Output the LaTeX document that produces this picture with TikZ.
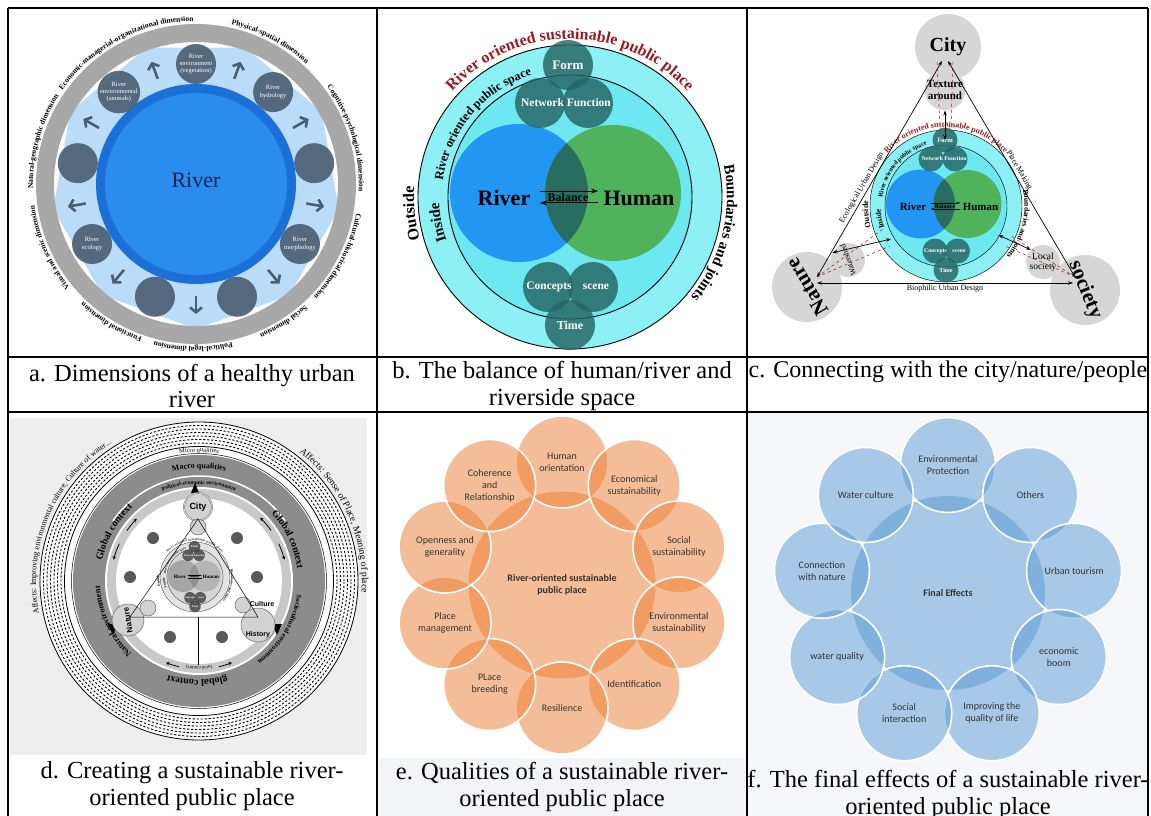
\documentclass[tikz,border=0pt]{standalone}
\usepackage{fontspec}
\setmainfont{Liberation Serif}
\newfontfamily\calfont{Carlito}
\newfontfamily\arialfont{Liberation Sans}
\usetikzlibrary{arrows.meta,decorations.text,positioning}

\definecolor{ringgray}{RGB}{168,168,168}
\definecolor{polyblue}{RGB}{186,220,248}
\definecolor{riverblue}{RGB}{42,140,236}
\definecolor{riveredge}{RGB}{26,112,214}
\definecolor{slate}{RGB}{74,93,113}
\definecolor{navy}{RGB}{24,36,82}
\definecolor{bout}{RGB}{140,240,245}
\definecolor{bin}{RGB}{110,232,240}
\definecolor{briver}{RGB}{33,150,243}
\definecolor{bhuman}{RGB}{80,178,90}
\definecolor{bboth}{RGB}{40,110,96}
\definecolor{bteal}{RGB}{38,100,100}
\definecolor{bred}{RGB}{150,26,32}
\definecolor{cgray}{RGB}{214,214,214}
\definecolor{dbg}{RGB}{238,238,238}
\definecolor{dgray}{RGB}{140,140,140}
\definecolor{dlight}{RGB}{200,200,200}
\definecolor{eorange}{RGB}{237,125,49}
\definecolor{ebg}{RGB}{242,244,247}
\definecolor{fblue}{RGB}{91,155,213}
\definecolor{fbg}{RGB}{245,247,250}

% font size scaled by \bs
\newcommand{\bfs}[1]{\fontsize{\fpeval{#1*\bs}}{\fpeval{1.15*#1*\bs}}\selectfont}
% text on a circular arc: radius, start, end, format, text
\newcommand{\arctext}[5]{%
  \path[decorate,decoration={text along path,text align=center,text={|#4|#5}}]
    (#2:#1) arc[start angle=#2,end angle=#3,radius=#1];}

% river / human balance figure, #1 scale, #2 name prefix
\newcommand{\balancefig}[2]{%
  \def\bs{#1}%
  \fill[bout] (0,0) circle[radius=152*\bs];
  \draw[line width=0.9*\bs] (0,0) circle[radius=152*\bs];
  \fill[bin] (0,0) circle[radius=122*\bs];
  \draw[line width=0.9*\bs] (0,0) circle[radius=122*\bs];
  \fill[briver] (-51*\bs,4*\bs) circle[radius=69*\bs];
  \fill[bhuman] (43*\bs,4*\bs) circle[radius=68*\bs];
  \begin{scope}
    \clip (-51*\bs,4*\bs) circle[radius=69*\bs];
    \fill[bboth] (43*\bs,4*\bs) circle[radius=68*\bs];
  \end{scope}
  % small teal circles
  \foreach \n/\px/\py in {form/-2/132,net/-30/94,fun/18/94,con/-22/-90,sce/23/-90,tim/0/-128}
    \node[bdisc, minimum size={50*\bs}] (#2\n) at (\px*\bs,\py*\bs) {};
  \node[blabel, font=\bfs{13}\bfseries] (#2formt) at (-2*\bs,132*\bs) {Form};
  \node[blabel, font=\bfs{11.5}\bfseries] (#2nft) at (-4*\bs,94*\bs) {Network Function};
  \node[blabel, font=\bfs{11.5}\bfseries] (#2cont) at (-21*\bs,-90*\bs) {Concepts};
  \node[blabel, font=\bfs{11.5}\bfseries] (#2scet) at (26*\bs,-90*\bs) {scene};
  \node[blabel, font=\bfs{12}\bfseries] (#2timt) at (0,-128*\bs) {Time};
  % centre
  \node[inner sep=0, font=\bfs{22}\bfseries] (#2river) at (-66*\bs,-1*\bs) {River};
  \node[inner sep=0, font=\bfs{22}\bfseries] (#2human) at (69*\bs,-1*\bs) {Human};
  \node[inner sep=1.5*\bs, font=\bfs{12}\bfseries] (#2bal) at (-2*\bs,0) {Balance};
  \draw[line width=1.1*\bs, -{Stealth[length=\fpeval{7*\bs}pt,width=\fpeval{5*\bs}pt]}]
    ([xshift=-6*\bs]#2bal.north west) -- ([xshift=8*\bs]#2bal.north east);
  \draw[line width=1.1*\bs, -{Stealth[length=\fpeval{7*\bs}pt,width=\fpeval{5*\bs}pt]}]
    ([xshift=8*\bs]#2bal.south east) -- ([xshift=-6*\bs]#2bal.south west);
  % curved labels
  \arctext{158*\bs}{155}{25}{\bfs{16}\bfseries\color{bred}}{River oriented sustainable public place}
  \arctext{128*\bs}{192}{88}{\bfs{12.5}\bfseries}{River oriented public space}
  \arctext{157*\bs}{22}{-50}{\bfs{15}\bfseries}{Boundaries and joints}
  \arctext{156*\bs}{202}{170}{\bfs{16}\bfseries}{Outside}
  \arctext{131*\bs}{208}{174}{\bfs{15}\bfseries}{Inside}
  \coordinate (#2sw) at (211:128*\bs);
  \coordinate (#2se) at (-29:120*\bs);
}

\begin{document}
\begin{tikzpicture}[x=1pt, y=1pt,
    rule/.style={line width=1.4},
    caption/.style={font=\fontsize{24.5}{26.5}\selectfont, align=center, inner sep=0},
    adisc/.style={circle, fill=slate, fill opacity=.9, text opacity=1, text=white,
      minimum size=40, inner sep=0, align=center, font=\fontsize{6.5}{7.3}\selectfont},
    aarrow/.style={slate, line width=2.6, -{Straight Barb[length=5,width=12]}},
    bdisc/.style={circle, fill=bteal, fill opacity=.82, inner sep=0},
    blabel/.style={text=white, inner sep=0},
    cdisc/.style={circle, fill=cgray, inner sep=0},
    tri/.style={{Stealth[length=5,width=3.5]}-{Stealth[length=5,width=3.5]}, line width=0.7},
    reddash/.style={bred, dashed, line width=0.5},
    dcirc/.style={circle, draw=black!60, fill=gray!35, inner sep=0, line width=0.5},
    ddot/.style={circle, fill=black!65, minimum size=12, inner sep=0},
    darr/.style={line width=0.8, -{Stealth[length=3.5,width=3.5]}},
    ecore/.style={circle, fill=eorange, fill opacity=.5, text opacity=1,
      minimum size=187, inner sep=0, align=center},
    ering/.style={circle, fill=eorange, fill opacity=.5, text opacity=1, draw=white,
      line width=1.6, minimum size=92, inner sep=0, align=center},
    fcore/.style={circle, fill=fblue, fill opacity=.5, text opacity=1,
      minimum size=194, inner sep=0, align=center},
    fring/.style={circle, fill=fblue, fill opacity=.5, text opacity=1, draw=white,
      line width=1.6, minimum size=95, inner sep=0, align=center}]

\useasboundingbox (0,0) rectangle (1151,-816);
\fill[white] (0,0) rectangle (1151,-816);

% cell backgrounds
\fill[dbg] (10,-418) rectangle (367,-755);
\fill[fbg] (748,-413) rectangle (1148,-816);
\fill[ebg] (379,-758) rectangle (745,-816);

% ---------- a. dimensions ----------
\begin{scope}[shift={(196,-184)}]
  \fill[polyblue] (70:145) \foreach \a in {110,150,...,390}{ -- (\a:145)} -- cycle;
  \draw[ringgray, line width=18] (0,0) circle[radius=151];
  \fill[riveredge] (0,0) circle[radius=100];
  \fill[riverblue] (0,0) circle[radius=91];
  \node[text=navy, font=\fontsize{22}{26}\selectfont] (ariver) at (0,4) {River};
  \foreach \a/\t [count=\i] in {90/{River\\environment\\(vegetation)}, 50/{River\\hydrology}, 10/{},
      -30/{River\\morphology}, -70/{}, -110/{}, -150/{River\\ecology}, 170/{},
      130/{River\\environmental\\(animals)}}
    \node[adisc] (adim\i) at (\a:120) {\t};
  \foreach \a in {70,30,...,-250}
    \draw[aarrow] (\a:112) -- (\a:130);
  \arctext{163}{154}{82}{\fontsize{7.5}{8}\selectfont\bfseries}{Economic-managerial-organizational dimension}
  \arctext{163}{87}{38}{\fontsize{7.5}{8}\selectfont\bfseries}{Physical-spatial dimension}
  \arctext{163}{45}{-11}{\fontsize{7.5}{8}\selectfont\bfseries}{Cognitive-psychological dimension}
  \arctext{163}{-2}{-52}{\fontsize{7.5}{8}\selectfont\bfseries}{Cultural-historical dimension}
  \arctext{163}{-42}{-73}{\fontsize{7.5}{8}\selectfont\bfseries}{Social dimension}
  \arctext{163}{-70}{-112}{\fontsize{7.5}{8}\selectfont\bfseries}{Political-legal dimension}
  \arctext{163}{-102}{-141}{\fontsize{7.5}{8}\selectfont\bfseries}{Functional dimension}
  \arctext{163}{-133}{-180}{\fontsize{7.5}{8}\selectfont\bfseries}{Visual and scenic dimension}
  \arctext{163}{189}{140}{\fontsize{7.5}{8}\selectfont\bfseries}{Natural-geographic dimension}
\end{scope}

% ---------- b. balance ----------
\begin{scope}[shift={(570,-197)}]
  \balancefig{1}{b}
\end{scope}

% ---------- c. city / nature / people ----------
\begin{scope}[shift={(946,-206)}]
  \balancefig{0.5}{c}
\end{scope}
\node[cdisc, minimum size=66, font=\fontsize{20}{22}\selectfont\bfseries] (city) at (948,-47) {City};
\node[cdisc, minimum size=34, align=center, font=\fontsize{11}{11.5}\selectfont\bfseries] (texture) at (945,-90) {Texture\\around};
\node[cdisc, minimum size=70, rotate=121, font=\fontsize{21}{22}\selectfont\bfseries] (nature) at (807,-287) {Nature};
\node[cdisc, minimum size=70, rotate=-68, font=\fontsize{21}{22}\selectfont\bfseries] (society) at (1085,-290) {society};
\node[cdisc, minimum size=34, rotate=110, font=\fontsize{8}{9}\selectfont] (watershed) at (848,-260) {Watershed};
\node[cdisc, minimum size=34, align=center, font=\fontsize{9.5}{10.5}\selectfont] (localsoc) at (1043,-262) {Local\\society};
\coordinate (tl) at (942,-61);
\coordinate (tr) at (948,-61);
\coordinate (bl) at (817,-277);
\coordinate (br) at (1075,-277);
\coordinate (bbl) at (817,-283);
\coordinate (bbr) at (1073,-283);
% red dashed links
\draw[reddash] (937,-62) -- (940,-128);
\draw[reddash] (953,-62) -- (951,-128);
\draw[reddash] (bl) -- (883,-229);
\draw[reddash] (bl) -- (890,-246);
\draw[reddash] (br) -- (1011,-236);
\draw[reddash] (br) -- (1005,-246);
% triangle
\draw[tri] (tl) -- node[sloped, above, pos=.6, font=\fontsize{8}{9}\selectfont, inner sep=2] (ecolab) {Ecological Urban Design} (bl);
\draw[tri] (tr) -- node[sloped, above, pos=.52, font=\fontsize{8}{9}\selectfont, inner sep=2] (placelab) {Place Making} (br);
\draw[tri] (bbl) -- node[below, font=\fontsize{8}{9}\selectfont, inner sep=2] (biolab) {Biophilic Urban Design} (bbr);
\draw[tri] (texture.south) -- (cform.center);
\draw[tri] (watershed.north east) -- (csw);
\draw[tri] (localsoc.north west) -- (cse);

% ---------- d. sustainable place ----------
\begin{scope}[shift={(199,-581)}]
  \fill[white] (0,0) circle[radius=159];
  \draw[line width=0.8] (0,0) circle[radius=159];
  \foreach \r in {155.5,152,148.5,145,141.5,138}
    \draw[line width=0.9, dash pattern=on 2.2pt off 1.8pt] (0,0) circle[radius=\r];
  \draw[line width=0.8] (0,0) circle[radius=134.5];
  \draw[line width=0.5] (0,0) circle[radius=127.5];
  \fill[dgray] (0,0) circle[radius=126];
  \fill[white] (0,0) circle[radius=94];
  \fill[dlight] (0,0) circle[radius=92];
  \fill[white] (0,0) circle[radius=83];
  \draw[white, line width=1.5] (145:105) arc[start angle=145, end angle=35, radius=105];
  \arctext{163}{201}{113}{\fontsize{8}{9}\selectfont}{Affects: Improving environmental culture, Culture of water...}
  \arctext{163}{60}{-12}{\fontsize{9.5}{10}\selectfont}{Affects: Sense of Place, Meaning of place}
  \arctext{129}{115}{65}{\fontsize{6.5}{7}\selectfont}{Micro qualities}
  \arctext{113}{120}{60}{\fontsize{8}{9}\selectfont\bfseries}{Macro qualities}
  \arctext{97}{135}{45}{\fontsize{5.5}{6}\selectfont\bfseries}{Political-economic environment}
  \arctext{99}{184}{116}{\fontsize{10}{11}\selectfont\bfseries}{Global context}
  \arctext{99}{59}{-9}{\fontsize{10}{11}\selectfont\bfseries}{Global context}
  \arctext{99}{-58}{-124}{\fontsize{10}{11}\selectfont\bfseries}{global context}
  \arctext{99}{237}{173}{\fontsize{8.5}{9}\selectfont\bfseries}{Natural environment}
  \arctext{99}{2}{-64}{\fontsize{7}{8}\selectfont\bfseries}{Sociocultural environment}
  \arctext{85.5}{-72}{-108}{\fontsize{5}{6}\selectfont}{local context}
  % arrows in the inner band
  \draw[darr] (145:88) arc[start angle=145, end angle=135, radius=88];
  \draw[darr] (155:88) arc[start angle=155, end angle=166, radius=88];
  \draw[darr] (35:88) arc[start angle=35, end angle=46, radius=88];
  \draw[darr] (25:88) arc[start angle=25, end angle=14, radius=88];
  \draw[darr] (-103:88) arc[start angle=-103, end angle=-112, radius=88];
  \draw[darr] (-77:88) arc[start angle=-77, end angle=-68, radius=88];
  \fill (-8,88) -- (-4,98) -- (0,88) -- cycle;
  \fill (-91,-43) -- (-81,-43) -- (-86,-54) -- cycle;
  \fill (73,-43) -- (83,-43) -- (78,-54) -- cycle;
  % grey copy of the balance figure
  \begin{scope}[shift={(-4,4)}]
    \colorlet{bout}{gray!22}
    \colorlet{bin}{gray!32}
    \colorlet{briver}{gray!70}
    \colorlet{bhuman}{gray!58}
    \colorlet{bboth}{gray!85}
    \colorlet{bteal}{black!75}
    \colorlet{bred}{black!70}
    \balancefig{0.23}{d}
  \end{scope}
  % triangle of city, nature and history
  \node[dcirc, double, minimum size=28, font=\arialfont\fontsize{9}{10}\selectfont\bfseries] (dcity) at (-1,74) {City};
  \node[dcirc, minimum size=16] (dtex) at (-1,54) {};
  \node[dcirc, minimum size=32, rotate=100, font=\arialfont\fontsize{8}{9}\selectfont\bfseries] (dnat) at (-71,-39) {Nature};
  \node[dcirc, minimum size=34] (dhis) at (59,-44) {};
  \node[dcirc, minimum size=16] (dwat) at (-51,-27) {};
  \node[dcirc, minimum size=16] (dloc) at (44,-24) {};
  \node[font=\arialfont\fontsize{7}{8}\selectfont\bfseries] (dhist) at (59,-54) {History};
  \node[font=\arialfont\fontsize{7}{8}\selectfont\bfseries] (dcult) at (63,-23) {Culture};
  \coordinate (dtop) at (-1,62);
  \coordinate (dleft) at (-69,-36);
  \coordinate (dright) at (59,-36);
  \coordinate (dfoot) at (-1,-84);
  \draw[line width=0.5] (dtop) -- (dleft) -- (dright) -- cycle;
  \draw[line width=0.6] (-1,-36) -- (dfoot);
  \foreach \p [count=\i] in {(-46,43),(38,43),(-69,4),(58,4),(-29,-56),(23,-56)}
    \node[ddot] (dd\i) at \p {};
\end{scope}

% ---------- e. qualities ----------
\begin{scope}[shift={(562,-585)}, font=\calfont\fontsize{10}{12}\selectfont, text=black!80]
  \node[ecore] (eplace) at (0,0) {\textbf{River-oriented sustainable}\\\textbf{public place}};
  \foreach \a/\t [count=\i] in {90/{Human\\orientation}, 54/{Economical\\sustainability},
      18/{Social\\sustainability}, -18/{Environmental\\sustainability}, -54/{Identification},
      -90/{Resilience}, -126/{PLace\\breeding}, -162/{Place\\management},
      162/{Openness and\\generality}, 126/{Coherence\\and\\Relationship}}
    \node[ering] (e\i) at (\a:123) {\t};
\end{scope}

% ---------- f. final effects ----------
\begin{scope}[shift={(948,-593)}, font=\calfont\fontsize{10}{12}\selectfont, text=black!80]
  \node[fcore] (feff) at (0,0) {\textbf{Final Effects}};
  \foreach \a/\t [count=\i] in {90/{Environmental\\Protection}, 50/{Others}, 10/{Urban tourism},
      -30/{economic\\boom}, -70/{Improving the\\quality of life}, -110/{Social\\interaction},
      -150/{water quality}, 170/{Connection\\with nature}, 130/{Water culture}}
    \node[fring] (f\i) at (\a:128) {\t};
\end{scope}

% ---------- table rules ----------
\draw[rule] (8,-8) -- (1148,-8);
\draw[rule] (8,-357) -- (1148,-357);
\draw[rule] (8,-412) -- (1148,-412);
\draw[rule] (8,-8) -- (8,-816);
\draw[rule] (377,-8) -- (377,-816);
\draw[rule] (747,-8) -- (747,-816);
\draw[rule] (1148,-8) -- (1148,-816);

% ---------- captions ----------
\node[caption] (capa) at (192,-386) {a. Dimensions of a healthy urban\\river};
\node[caption] (capb) at (562,-386) {b. The balance of human/river and\\riverside space};
\node[caption, font=\fontsize{24}{26.5}\selectfont] (capc) at (948,-372) {c. Connecting with the city/nature/people};
\node[caption] (capd) at (192,-786) {d. Creating a sustainable river-\\oriented public place};
\node[caption] (cape) at (562,-787) {e. Qualities of a sustainable river-\\oriented public place};
\node[caption] (capf) at (948,-795) {f. The final effects of a sustainable river-\\oriented public place};

\end{tikzpicture}
\end{document}
